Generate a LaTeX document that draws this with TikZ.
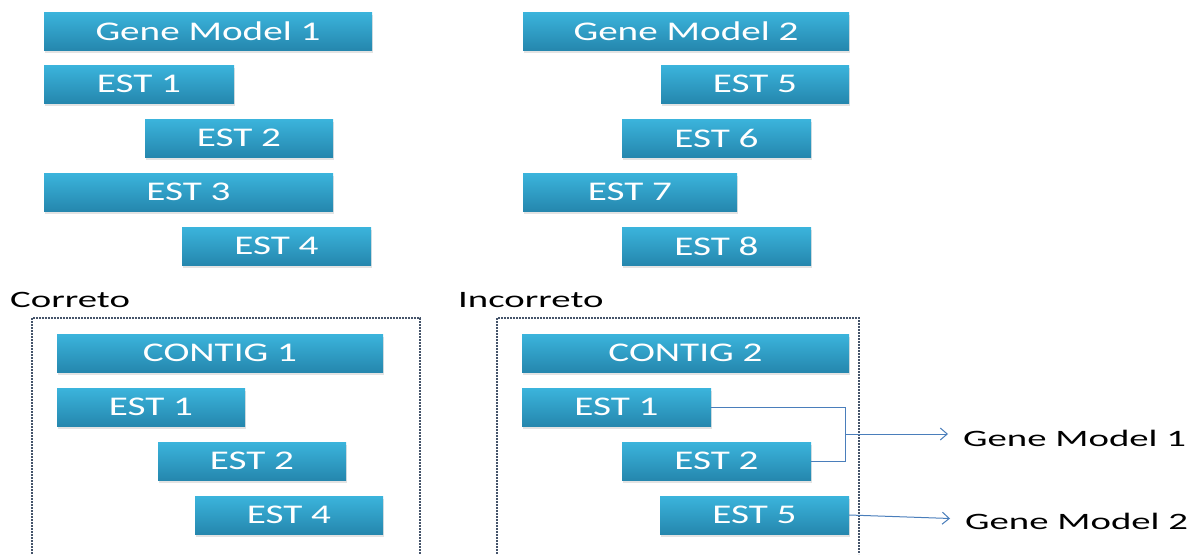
\documentclass[tikz,border=0pt]{standalone}
\usepackage{fontspec}
\setmainfont{Carlito}
\newfontfamily\boxfont[FakeStretch=1.45]{Carlito}
\newfontfamily\lblfont[FakeStretch=1.65]{Carlito}
\usetikzlibrary{shadows,arrows.meta,calc}
\definecolor{boxtop}{HTML}{3BB4DC}
\definecolor{boxbot}{HTML}{2587AE}
\definecolor{linkblue}{HTML}{4A7EBB}
\definecolor{dotgray}{HTML}{45546A}
\tikzset{
 estbox/.style={rectangle, minimum height=38pt, inner sep=0pt, top color=boxtop, bottom color=boxbot, draw=none, text=white, font=\boxfont\fontsize{27}{27}\selectfont, drop shadow={opacity=0.22, shadow xshift=0.8pt, shadow yshift=-2.5pt}},
 lbl/.style={inner sep=0pt, anchor=west, text=black, font=\lblfont\fontsize{23.5}{24}\selectfont},
 frame/.style={dotgray, line width=2pt, dash pattern=on 1.6pt off 1.4pt},
 link/.style={linkblue, line width=1pt},
 linkarrow/.style={link, -{Straight Barb[length=7pt,width=12pt,line width=1pt]}, shorten >=15pt},
}
\begin{document}
\begin{tikzpicture}[x=1pt,y=-1pt]
\useasboundingbox (0,0) rectangle (1198,554);
% top left group
\node[estbox, minimum width=328pt] (gm1) at (208,31) {Gene Model 1};
\node[estbox, minimum width=190pt] (e1a) at (139,84) {EST 1};
\node[estbox, minimum width=188pt] (e2a) at (239,138) {EST 2};
\node[estbox, minimum width=289pt] (e3a) at (188.5,192) {EST 3};
\node[estbox, minimum width=189pt] (e4a) at (276.5,246) {EST 4};
% top right group
\node[estbox, minimum width=326pt] (gm2) at (686,31) {Gene Model 2};
\node[estbox, minimum width=188pt] (e5a) at (755,84) {EST 5};
\node[estbox, minimum width=189pt] (e6a) at (716.5,138) {EST 6};
\node[estbox, minimum width=214pt] (e7a) at (630,192) {EST 7};
\node[estbox, minimum width=189pt] (e8a) at (716.5,246) {EST 8};
% labels
\node[lbl] (cor) at (10,300) {Correto};
\node[lbl] (inc) at (458,300) {Incorreto};
% frames
\draw[frame] (32,554) -- (32,318) -- (420,318) -- (420,554);
\draw[frame] (497,554) -- (497,318) -- (859,318) -- (859,554);
% correct contig
\node[estbox, minimum width=326pt] (c1) at (220,353) {CONTIG 1};
\node[estbox, minimum width=188pt] (c1e1) at (151,407) {EST 1};
\node[estbox, minimum width=188pt] (c1e2) at (252,461) {EST 2};
\node[estbox, minimum width=188pt] (c1e4) at (289,515) {EST 4};
% incorrect contig
\node[estbox, minimum width=327pt] (c2) at (685.5,353) {CONTIG 2};
\node[estbox, minimum width=189pt] (c2e1) at (616.5,407) {EST 1};
\node[estbox, minimum width=189pt] (c2e2) at (716.5,461) {EST 2};
\node[estbox, minimum width=189pt] (c2e5) at (754.5,515) {EST 5};
% outcome labels
\node[lbl] (gm1l) at (963,438) {Gene Model 1};
\node[lbl] (gm2l) at (965,521) {Gene Model 2};
% connectors
\coordinate (j) at (845,434);
\draw[link] (c2e1.east) -| (j);
\draw[link] (c2e2.east) -| (j);
\draw[linkarrow] (j) -- (gm1l.west |- j);
\draw[linkarrow] (c2e5.east) -- ($(gm2l.west)+(0,-2)$);
\end{tikzpicture}
\end{document}
